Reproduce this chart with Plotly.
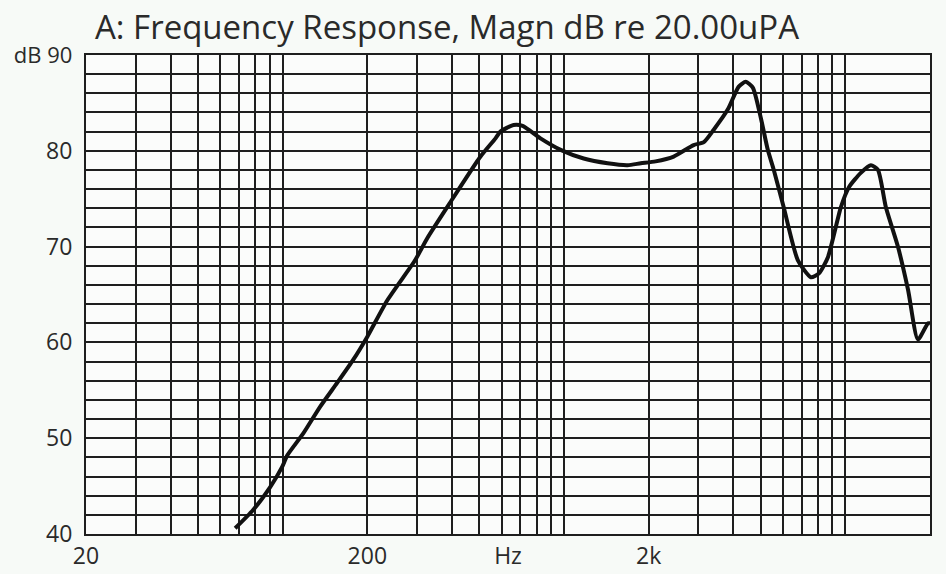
import plotly.graph_objects as go

# Frequency response data (Hz, dB)
freq_hz = [67.8, 78.5, 90.3, 99.6, 103.8, 118.4, 136, 156.4, 178.3, 200, 235.6,
           296, 327, 394, 505, 571, 594, 662, 713, 825, 973, 1175,
           1429, 1683, 1875, 2117, 2455, 2891, 3141, 3406, 3820, 4180, 4428,
           4690, 5011, 5302, 5570, 6040, 6776, 7547, 8060, 8673, 9640, 10300,
           11350, 12330, 13060, 13940, 15380, 16710, 18120, 19680, 20000]
magn_db = [40.6, 42.5, 44.9, 47.0, 48.2, 50.5, 53.3, 55.8, 58.2, 60.6, 64.4,
           68.6, 70.9, 74.6, 79.4, 81.3, 82.0, 82.7, 82.6, 81.3, 80.1, 79.2,
           78.7, 78.5, 78.7, 78.9, 79.4, 80.6, 80.9, 82.2, 84.3, 86.7, 87.2,
           86.6, 83.4, 80.1, 78.0, 74.1, 68.6, 66.8, 67.2, 68.9, 74.1, 76.2,
           77.7, 78.5, 78.0, 74.1, 70.0, 65.5, 60.3, 62.0, 62.0]

x_grid = [20, 30, 40, 50, 60, 70, 80, 90, 100, 200, 300, 400, 500, 600, 700, 800,
          900, 1000, 2000, 3000, 4000, 5000, 6000, 7000, 8000, 9000, 10000, 20000]
x_tick_vals = [20, 200, 632.5, 2000, 20000]
x_tick_text = ["20", "200", "Hz", "2k", "20k"]
y_tick_vals = [40, 50, 60, 70, 80, 90]
y_tick_text = ["40", "50", "60", "70", "80", "<span style='font-size:22px'>dB 90</span>"]

FONT = "Open Sans"
GRID = "#1e1e1e"
TXT = "#2a2a2a"

fig = go.Figure()
fig.add_trace(go.Scatter(
    x=freq_hz, y=magn_db, mode="lines",
    line=dict(color="#111111", width=4, shape="spline", smoothing=0.6),
    hoverinfo="x+y", showlegend=False,
))

fig.update_layout(
    width=946, height=574,
    margin=dict(l=86, r=16, t=55, b=40, autoexpand=False),
    paper_bgcolor="#f7faf7",
    plot_bgcolor="#fbfcfb",
    title=dict(text="A: Frequency Response, Magn dB re 20.00uPA",
               x=95 / 946, xanchor="left", xref="container",
               y=1 - 27 / 574, yanchor="middle", yref="container",
               font=dict(family=FONT, size=33, color=TXT)),
    font=dict(family=FONT, color=TXT),
)
fig.update_xaxes(
    type="log", range=[1.30103, 4.30103], automargin=False,
    tickmode="array", tickvals=x_tick_vals, ticktext=x_tick_text,
    showgrid=False, ticks="", zeroline=False,
    tickfont=dict(size=23, family=FONT, color=TXT),
    minor=dict(tickmode="array", tickvals=x_grid, showgrid=True,
               gridcolor=GRID, gridwidth=2, ticks=""),
    showline=True, linecolor=GRID, linewidth=2, mirror=True,
)
fig.update_yaxes(
    range=[40, 90], automargin=False,
    tickmode="array", tickvals=y_tick_vals, ticktext=y_tick_text,
    showgrid=True, gridcolor=GRID, gridwidth=2, zeroline=False, ticks="",
    tickfont=dict(size=23, family=FONT, color=TXT),
    minor=dict(dtick=2, showgrid=True, gridcolor=GRID, gridwidth=2, ticks=""),
    showline=True, linecolor=GRID, linewidth=2, mirror=True,
    ticklabelstandoff=7,
)

fig.write_html(
    "out.html",
    config={"displayModeBar": False},
    post_script="document.body.style.margin='0';document.body.style.overflow='hidden';",
)
